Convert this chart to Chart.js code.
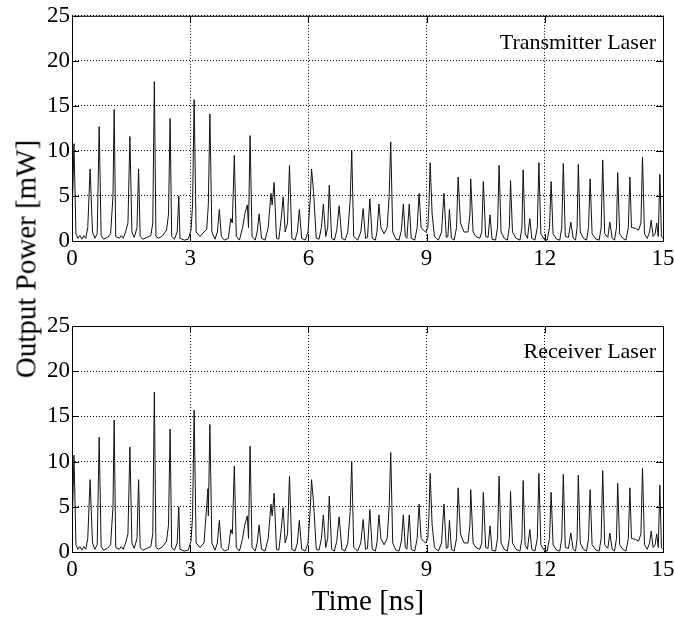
<!DOCTYPE html>
<html>
<head>
<meta charset="utf-8">
<script src="https://cdn.jsdelivr.net/npm/chart.js@4/dist/chart.umd.min.js"></script>
<style>
  html, body { margin: 0; background: #fff; overflow: hidden; }
  #page { position: relative; width: 674px; height: 618px; overflow: hidden; font-family: 'Liberation Serif', 'Times New Roman', serif; color: #000; }
  canvas { position: absolute; left: 0; }
  .title { position: absolute; white-space: nowrap; font-size: 29px; line-height: 1; }
</style>
</head>
<body>
<div id="page">
  <canvas id="txChart" width="690" height="280" style="top:0"></canvas>
  <canvas id="rxChart" width="690" height="280" style="top:310px"></canvas>
  <div class="title" style="left:26px;top:259px;transform:translate(-50%,-50%) rotate(-90deg)">Output Power [mW]</div>
  <div class="title" style="left:368px;top:600px;transform:translate(-50%,-50%)">Time [ns]</div>
</div>
<script>
// Achsen
const xTicks = [0, 3, 6, 9, 12, 15];
const yTicks = [0, 5, 10, 15, 20, 25];
const panelLabels = ['Transmitter Laser', 'Receiver Laser'];

// Verlauf des Senderlasers: [Zeit ns, Leistung mW]
const txTrace = [
  [0.00, 2.0], [0.05, 10.8], [0.10, 0.8], [0.15, 0.3], [0.20, 0.6], [0.25, 0.2], [0.30, 0.6], [0.35, 0.3], [0.40, 1.5], [0.46, 8.0],
  [0.52, 1.0], [0.58, 0.3], [0.64, 0.8], [0.69, 12.7], [0.74, 0.6], [0.80, 0.2], [0.90, 0.4], [0.98, 0.8], [1.04, 5.0], [1.07, 14.6],
  [1.11, 0.5], [1.20, 0.3], [1.25, 0.6], [1.30, 0.3], [1.36, 1.0], [1.42, 2.0], [1.47, 11.6], [1.52, 1.0], [1.58, 0.4], [1.65, 1.5],
  [1.69, 8.0], [1.73, 0.5], [1.80, 0.2], [1.90, 0.4], [2.00, 0.6], [2.05, 2.0], [2.09, 17.7], [2.13, 0.5], [2.20, 0.3], [2.30, 0.6],
  [2.40, 1.2], [2.45, 3.0], [2.49, 13.6], [2.53, 0.5], [2.60, 0.2], [2.67, 1.0], [2.71, 5.0], [2.74, 0.3], [2.85, 0.1], [2.95, 0.2],
  [3.02, 1.2], [3.06, 4.0], [3.10, 15.7], [3.15, 1.0], [3.25, 0.5], [3.35, 1.0], [3.42, 1.3], [3.46, 4.0], [3.50, 14.1], [3.55, 1.0],
  [3.63, 0.2], [3.69, 1.0], [3.74, 3.5], [3.79, 0.5], [3.87, 0.1], [3.97, 0.3], [4.03, 2.5], [4.07, 2.0], [4.12, 9.5], [4.17, 0.5],
  [4.25, 0.1], [4.33, 1.5], [4.39, 3.1], [4.45, 4.0], [4.48, 1.5], [4.52, 11.7], [4.57, 0.5], [4.65, 0.1], [4.70, 1.0], [4.75, 3.0],
  [4.81, 0.3], [4.90, 0.1], [4.98, 1.5], [5.05, 5.3], [5.08, 4.0], [5.13, 6.5], [5.19, 0.3], [5.25, 0.2], [5.31, 2.5], [5.36, 4.9],
  [5.41, 1.0], [5.47, 2.0], [5.52, 8.4], [5.58, 0.3], [5.66, 0.1], [5.72, 1.0], [5.77, 3.5], [5.83, 0.3], [5.92, 0.1], [5.99, 1.0],
  [6.05, 5.0], [6.08, 8.0], [6.13, 5.5], [6.20, 0.3], [6.27, 0.2], [6.33, 1.5], [6.38, 4.1], [6.44, 0.5], [6.49, 1.5], [6.53, 6.2],
  [6.59, 0.3], [6.66, 0.1], [6.72, 1.2], [6.78, 3.9], [6.85, 0.3], [6.93, 0.1], [7.00, 1.0], [7.06, 4.5], [7.10, 10.0], [7.15, 0.5],
  [7.25, 0.1], [7.33, 1.0], [7.39, 3.6], [7.45, 0.3], [7.50, 0.4], [7.56, 4.7], [7.62, 0.3], [7.70, 0.1], [7.74, 1.0], [7.79, 4.1],
  [7.84, 1.5], [7.92, 0.8], [8.00, 1.5], [8.05, 5.0], [8.09, 11.0], [8.14, 1.0], [8.22, 0.2], [8.30, 0.1], [8.36, 1.2], [8.41, 4.1],
  [8.46, 0.5], [8.50, 0.3], [8.56, 4.1], [8.61, 0.3], [8.70, 0.1], [8.76, 1.5], [8.81, 5.3], [8.86, 1.5], [8.92, 1.2], [8.98, 1.0],
  [9.03, 1.5], [9.06, 4.0], [9.09, 8.7], [9.14, 3.0], [9.20, 0.5], [9.30, 0.1], [9.38, 1.0], [9.44, 5.3], [9.50, 0.4], [9.54, 0.5],
  [9.58, 3.5], [9.63, 0.3], [9.70, 0.1], [9.76, 1.5], [9.80, 7.1], [9.86, 2.0], [9.95, 1.0], [10.05, 1.0], [10.10, 3.0], [10.12, 6.9],
  [10.18, 1.0], [10.25, 0.5], [10.35, 0.3], [10.40, 1.0], [10.44, 6.6], [10.50, 0.5], [10.56, 0.4], [10.61, 2.9], [10.66, 0.2], [10.75, 0.1],
  [10.80, 1.5], [10.84, 8.4], [10.89, 1.0], [10.97, 0.3], [11.05, 0.1], [11.10, 1.5], [11.13, 6.7], [11.18, 1.0], [11.27, 0.3], [11.37, 0.1],
  [11.42, 1.5], [11.45, 7.9], [11.50, 0.8], [11.56, 0.3], [11.62, 2.5], [11.67, 0.3], [11.75, 0.1], [11.81, 1.5], [11.85, 8.7], [11.90, 0.8],
  [11.98, 0.2], [12.06, 0.1], [12.12, 1.5], [12.16, 6.6], [12.21, 0.8], [12.30, 0.2], [12.38, 0.1], [12.43, 1.5], [12.47, 8.6], [12.52, 0.5],
  [12.60, 0.4], [12.66, 2.1], [12.72, 0.3], [12.78, 0.1], [12.82, 1.5], [12.85, 8.5], [12.90, 1.0], [12.98, 0.3], [13.06, 0.1], [13.11, 1.5],
  [13.15, 6.9], [13.20, 0.8], [13.30, 0.2], [13.38, 0.1], [13.43, 1.5], [13.47, 9.0], [13.52, 0.8], [13.60, 0.4], [13.65, 2.1], [13.71, 0.3],
  [13.77, 0.1], [13.82, 1.5], [13.85, 7.6], [13.90, 0.8], [13.98, 0.3], [14.06, 0.1], [14.12, 1.5], [14.16, 7.1], [14.20, 1.5], [14.30, 1.4],
  [14.38, 1.2], [14.44, 2.0], [14.48, 9.3], [14.53, 0.8], [14.60, 0.3], [14.66, 1.0], [14.70, 2.3], [14.75, 0.5], [14.80, 0.8], [14.84, 2.0],
  [14.88, 0.5], [14.92, 7.4], [14.96, 0.5], [15.00, 0.3]
];

// Empfängerlaser ist synchronisiert - im Bild praktisch identisch, nur kleine Abweichungen
const rxTrace = txTrace.map(p => p.slice());
rxTrace[1] = [0.05, 10.7];
rxTrace[56] = [3.45, 7.0];

function makeFramePlugin(label, labelDy) {
  return {
    id: 'frame',
    afterDraw(chart) {
      const { ctx, chartArea: a, scales } = chart;
      ctx.save();
      ctx.strokeStyle = '#000';
      ctx.lineWidth = 1;
      ctx.strokeRect(a.left + 0.5, a.top + 0.5, a.right - a.left, a.bottom - a.top);
      // Ticks nach innen wie in MATLAB
      const len = 7;
      ctx.beginPath();
      xTicks.forEach(v => {
        const x = Math.round(scales.x.getPixelForValue(v)) + 0.5;
        ctx.moveTo(x, a.bottom); ctx.lineTo(x, a.bottom - len);
        ctx.moveTo(x, a.top); ctx.lineTo(x, a.top + len);
      });
      yTicks.forEach(v => {
        const y = Math.round(scales.y.getPixelForValue(v)) + 0.5;
        ctx.moveTo(a.left, y); ctx.lineTo(a.left + len, y);
        ctx.moveTo(a.right, y); ctx.lineTo(a.right - len, y);
      });
      ctx.stroke();
      ctx.fillStyle = '#000';
      ctx.font = "22px 'Liberation Serif'";
      ctx.textAlign = 'right';
      ctx.textBaseline = 'alphabetic';
      ctx.fillText(label, a.right - 7, a.top + labelDy);
      ctx.restore();
    }
  };
}

function renderPanel(canvasId, trace, label, topPad, xHeight, labelDy) {
  const tickFont = { family: "'Liberation Serif'", size: 23 };
  return new Chart(document.getElementById(canvasId), {
    type: 'scatter',
    data: {
      datasets: [{
        data: trace.map(p => ({ x: p[0], y: p[1] })),
        showLine: true,
        borderColor: '#111',
        borderWidth: 1,
        pointRadius: 0,
        tension: 0
      }]
    },
    options: {
      responsive: false,
      animation: false,
      // Canvas ist breiter als das Fenster, damit die Plotfläche bis x=663 reicht
      layout: { padding: { top: topPad, right: 27, left: 0, bottom: 0 } },
      plugins: { legend: { display: false }, tooltip: { enabled: false } },
      scales: {
        x: {
          type: 'linear', min: 0, max: 15,
          afterBuildTicks: axis => { axis.ticks = xTicks.map(v => ({ value: v })); },
          afterFit: axis => { axis.height = xHeight; },
          ticks: { font: tickFont, color: '#000', padding: 4, maxRotation: 0 },
          grid: { color: '#000', lineWidth: 1, drawTicks: false },
          border: { display: false, dash: [1, 2] }
        },
        y: {
          type: 'linear', min: 0, max: 25,
          afterBuildTicks: axis => { axis.ticks = yTicks.map(v => ({ value: v })); },
          afterFit: axis => { axis.width = 72; },
          ticks: { font: tickFont, color: '#000', padding: 2 },
          grid: { color: '#000', lineWidth: 1, drawTicks: false },
          border: { display: false, dash: [1, 2] }
        }
      }
    },
    plugins: [makeFramePlugin(label, labelDy)]
  });
}

renderPanel('txChart', txTrace, panelLabels[0], 15, 39, 33);
renderPanel('rxChart', rxTrace, panelLabels[1], 16, 38, 32);
</script>
</body>
</html>
